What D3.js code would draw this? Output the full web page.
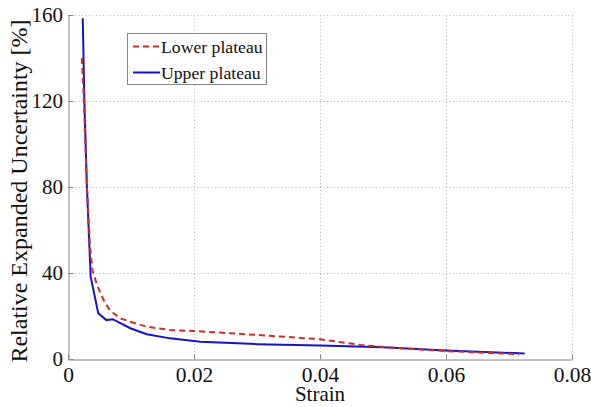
<!DOCTYPE html>
<html>
<head>
<meta charset="utf-8">
<script src="https://cdn.jsdelivr.net/npm/d3@7"></script>
</head>
<body style="margin:0">
<svg id="fig" width="591" height="407"></svg>
<script>
// Relative expanded uncertainty vs. strain for the two plateaus
const lowerStrain = [0.0022, 0.0025, 0.0030, 0.0035, 0.0039, 0.0045, 0.0051, 0.0058, 0.0067, 0.0083, 0.0099, 0.0125, 0.0162, 0.0200, 0.0300, 0.0400, 0.0465, 0.0528, 0.0600, 0.0716];
const lowerU      = [140, 122, 80, 52, 41, 35.5, 31, 26.5, 22.5, 18.9, 17.3, 15.0, 13.5, 13.0, 11.2, 9.2, 6.5, 5.0, 3.7, 2.2];

const upperStrain = [0.00234, 0.0026, 0.0030, 0.0036, 0.0048, 0.0061, 0.0071, 0.0099, 0.0125, 0.0162, 0.0210, 0.0300, 0.0400, 0.0500, 0.0600, 0.0725];
const upperU      = [158.5, 120, 80, 38.3, 21.3, 18.1, 18.5, 14.3, 11.5, 9.6, 8.0, 6.9, 6.3, 5.5, 3.9, 2.6];

const xTicks = [0, 0.02, 0.04, 0.06, 0.08];
const xTickLabels = ["0", "0.02", "0.04", "0.06", "0.08"];
const yTicks = [0, 40, 80, 120, 160];
const yTickLabels = ["0", "40", "80", "120", "160"];

const seriesNames = ["Lower plateau", "Upper plateau"];

const svg = d3.select("#fig");
const margin = { left: 68, right: 19, top: 15, bottom: 48 };
const W = 591, H = 407;
const FONT = "Liberation Serif";

const x = d3.scaleLinear().domain([0, 0.08]).range([margin.left, W - margin.right]);
const y = d3.scaleLinear().domain([0, 160]).range([H - margin.bottom, margin.top]);

// dotted grid
const grid = svg.append("g").attr("stroke", "#b5b5b5").attr("stroke-width", 1).attr("stroke-dasharray", "1,2.5");
grid.selectAll(".gx").data(xTicks.slice(1)).enter().append("line")
  .attr("x1", d => Math.round(x(d)) + 0.5).attr("x2", d => Math.round(x(d)) + 0.5)
  .attr("y1", y(0)).attr("y2", y(160));
grid.selectAll(".gy").data(yTicks.slice(1)).enter().append("line")
  .attr("y1", d => Math.round(y(d)) + 0.5).attr("y2", d => Math.round(y(d)) + 0.5)
  .attr("x1", x(0)).attr("x2", x(0.08));

// axes with inward ticks
const xAxis = d3.axisBottom(x).tickValues(xTicks).tickSizeInner(-5).tickSizeOuter(0)
  .tickFormat((d, i) => xTickLabels[i]).tickPadding(7);
const gx = svg.append("g").attr("transform", `translate(0,${Math.round(y(0)) + 0.5})`).call(xAxis)
  .attr("font-family", FONT).attr("font-size", 21.5);
gx.selectAll("text").attr("font-family", FONT).attr("font-size", 21.5).attr("fill", "#111");

const yAxis = d3.axisLeft(y).tickValues(yTicks).tickSizeInner(-5).tickSizeOuter(0)
  .tickFormat((d, i) => yTickLabels[i]).tickPadding(5.5);
const gy = svg.append("g").attr("transform", `translate(${Math.round(x(0)) + 0.5},0)`).call(yAxis)
  .attr("font-family", FONT).attr("font-size", 21);
gy.selectAll("text").attr("font-family", FONT).attr("font-size", 21).attr("fill", "#111");

svg.selectAll(".domain, .tick line").attr("stroke", "#888");

// axis titles
svg.append("text").attr("x", x(0.04)).attr("y", 401).attr("text-anchor", "middle")
  .attr("font-family", FONT).attr("font-size", 21).attr("fill", "#111").text("Strain");
svg.append("text").attr("transform", "translate(27,191) rotate(-90)")
  .attr("text-anchor", "middle").attr("font-family", FONT).attr("font-size", 24).attr("fill", "#111")
  .text("Relative Expanded Uncertainty [%]");

// curves
const line = d3.line().x(d => x(d[0])).y(d => y(d[1]));
const lowerData = lowerStrain.map((s, i) => [s, lowerU[i]]);
const upperData = upperStrain.map((s, i) => [s, upperU[i]]);

svg.append("path").datum(upperData).attr("d", line)
  .attr("fill", "none").attr("stroke", "#1414c8").attr("stroke-width", 2);
svg.append("path").datum(lowerData).attr("d", line)
  .attr("fill", "none").attr("stroke", "#d42a2a").attr("stroke-width", 2).attr("stroke-dasharray", "6,4");

// legend
const lg = svg.append("g");
lg.append("rect").attr("x", 127.5).attr("y", 33.5).attr("width", 139).attr("height", 51)
  .attr("fill", "#fff").attr("stroke", "#888").attr("stroke-width", 1);
const styles = [
  { color: "#d42a2a", dash: "6,4" },
  { color: "#1414c8", dash: null }
];
seriesNames.forEach((name, i) => {
  const yy = 46.5 + i * 26;
  lg.append("line").attr("x1", 133).attr("x2", 160).attr("y1", yy).attr("y2", yy)
    .attr("stroke", styles[i].color).attr("stroke-width", 2)
    .attr("stroke-dasharray", styles[i].dash);
  lg.append("text").attr("x", 161).attr("y", yy + 6)
    .attr("font-family", FONT).attr("font-size", 17.7).attr("fill", "#111").text(name);
});
</script>
</body>
</html>
